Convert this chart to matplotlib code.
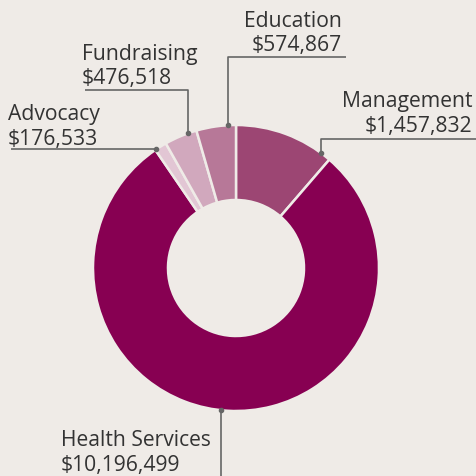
import numpy as np
import matplotlib.pyplot as plt

plt.rcParams['font.family'] = ['Open Sans', 'DejaVu Sans']

# data, clockwise from 12 o'clock
labels = ["Management", "Health Services", "Advocacy", "Fundraising", "Education"]
values = [1457832, 10196499, 176533, 476518, 574867]
colors = ["#9c4673", "#870052", "#e2c6d4", "#d1a8bd", "#b77898"]

bg = "#efebe7"
ink = "#333333"
line_col = "#666666"

# layout (pixels from the top-left, converted below)
H = 476
cx, cy = 236, 268
r_out, r_in = 143, 68
dot_frac = [0.1, 0.49, 0.9, 0.27, 0.2]
# (elbow y, end x) of each leader line
elbows = [(139, 476), (476, None), (None, 11), (90, 85), (57, 346)]
# (x, label baseline, value baseline, ha)
text_pos = [(472, 107, 132, "right"), (61, 446, 471, "left"), (8, 120, 145, "left"),
            (82, 60, 84, "left"), (342, 27, 51, "right")]

fig = plt.figure(figsize=(4.76, 4.76), dpi=100, facecolor=bg)
ax = fig.add_axes([0, 0, 1, 1])
ax.set_facecolor(bg)

wedges, _ = ax.pie(values, colors=colors, startangle=90, counterclock=False,
                   center=(cx, H - cy), radius=r_out,
                   wedgeprops=dict(width=r_out - r_in, edgecolor=bg, linewidth=1.8))

for w, lab, val, f, (ey, ex), (tx, ly, vy, ha) in zip(wedges, labels, values, dot_frac, elbows, text_pos):
    ang = np.deg2rad(w.theta1 + f * (w.theta2 - w.theta1))
    dx = cx + r_out * np.cos(ang)
    dy = (H - cy) + r_out * np.sin(ang)
    xs, ys = [dx], [dy]
    if ey is not None:
        xs.append(dx)
        ys.append(H - ey)
    if ex is not None:
        xs.append(ex)
        ys.append(ys[-1])
    ax.plot(xs, ys, color=line_col, lw=1.2, solid_capstyle="butt")
    ax.plot([dx], [dy], "o", color=line_col, ms=3)
    ax.text(tx, H - ly, lab, ha=ha, va="baseline", fontsize=15.2, color=ink)
    ax.text(tx, H - vy, "${:,}".format(val), ha=ha, va="baseline", fontsize=15.2, color=ink)

ax.set_xlim(0, 476)
ax.set_ylim(0, 476)
ax.set_aspect("equal")
ax.axis("off")
fig.savefig("out.png", dpi=100, facecolor=bg)
